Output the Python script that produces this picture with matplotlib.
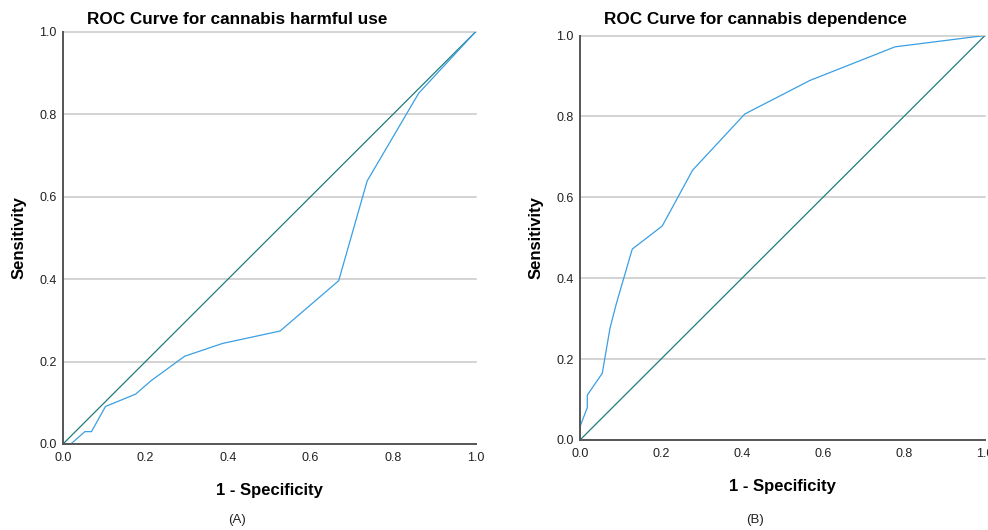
import matplotlib
matplotlib.use('Agg')
import matplotlib.pyplot as plt

plt.rcParams['font.family'] = ['Liberation Sans', 'DejaVu Sans']

# ROC curve for cannabis harmful use (panel A)
fpr_a = [0.0, 0.019, 0.053, 0.069, 0.103, 0.176, 0.214, 0.295, 0.387, 0.526, 0.668, 0.737, 0.862, 1.0]
tpr_a = [0.0, 0.0, 0.030, 0.030, 0.091, 0.121, 0.154, 0.213, 0.244, 0.274, 0.396, 0.638, 0.851, 1.0]

# ROC curve for cannabis dependence (panel B)
fpr_b = [0.0, 0.0, 0.018, 0.018, 0.055, 0.074, 0.090, 0.129, 0.203, 0.278, 0.407, 0.568, 0.778, 1.0]
tpr_b = [0.0, 0.033, 0.080, 0.111, 0.165, 0.276, 0.338, 0.472, 0.529, 0.667, 0.806, 0.889, 0.972, 1.0]

titles = ['ROC Curve for cannabis harmful use', 'ROC Curve for cannabis dependence']
panel_tags = ['(A)', '(B)']
ticks = [0.0, 0.2, 0.4, 0.6, 0.8, 1.0]

W, H = 988, 530
fig = plt.figure(figsize=(W / 100, H / 100), dpi=100)

# pixel boxes: left, top, right, bottom
boxes = [(63, 31.7, 475.7, 444), (580, 35.5, 985, 440)]
title_x = [237, 755]

curve_col = '#3a9fe3'
ref_col = '#1f7d7b'

for i, (fpr, tpr) in enumerate([(fpr_a, tpr_a), (fpr_b, tpr_b)]):
    l, t, r, b = boxes[i]
    ax = fig.add_axes([l / W, (H - b) / H, (r - l) / W, (b - t) / H])
    ax.set_xlim(0, 1)
    ax.set_ylim(0, 1)

    for y in ticks[1:]:
        ax.axhline(y, color='#c8c8c8', lw=1.1, zorder=1, clip_on=False)
    ax.plot([0, 1], [0, 1], color=ref_col, lw=0.9, zorder=3)
    ax.plot(fpr, tpr, color=curve_col, lw=0.9, zorder=4)

    ax.spines['right'].set_visible(False)
    ax.spines['top'].set_visible(False)
    for s in ['left', 'bottom']:
        ax.spines[s].set_color('#555555')
        ax.spines[s].set_linewidth(1.4)
        ax.spines[s].set_zorder(5)

    ax.set_xticks(ticks)
    ax.set_yticks(ticks)
    ax.set_xticklabels([f'{v:.1f}' for v in ticks])
    ax.set_yticklabels([f'{v:.1f}' for v in ticks])
    ax.tick_params(length=0, labelsize=9, colors='#222222', pad=4.5)
    ax.tick_params(axis='x', pad=6)

    ax.set_xlabel('1 - Specificity', fontsize=12, fontweight='bold', labelpad=13.5)
    ax.set_ylabel('Sensitivity', fontsize=12, fontweight='bold', labelpad=9)

    fig.text(title_x[i] / W, 1 - 19.5 / H, titles[i], fontsize=12.3,
             fontweight='bold', ha='center', va='center')
    fig.text(title_x[i] / W, 1 - 520 / H, panel_tags[i], fontsize=9.5,
             ha='center', va='center', color='#222222')

fig.savefig('out.png', dpi=100)
